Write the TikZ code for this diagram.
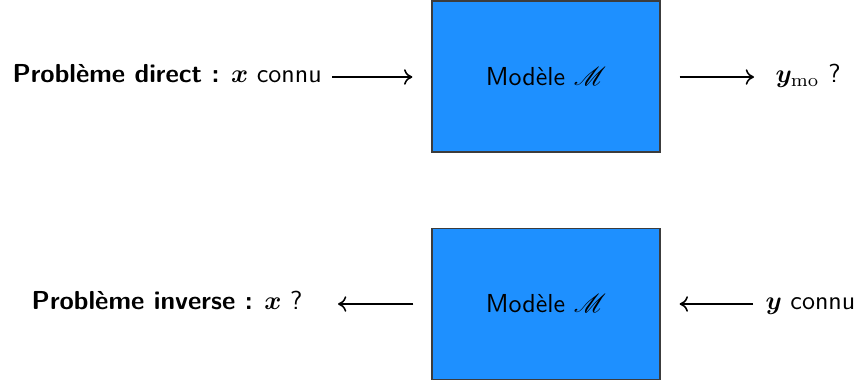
\documentclass[tikz,border=0pt]{standalone}
\usepackage{amsmath}
\usepackage{bm}
\usepackage{mathrsfs}
\usepackage{fontspec}
\usetikzlibrary{arrows.meta}
\renewcommand{\familydefault}{\sfdefault}
\definecolor{modelblue}{RGB}{30,144,255}
\definecolor{boxedge}{RGB}{60,60,60}
\tikzset{
  modelbox/.style={rectangle, draw=boxedge, line width=0.5pt, fill=modelblue,
    minimum width=87.7pt, minimum height=58.1pt, inner sep=0pt, font=\sffamily},
  lbl/.style={inner sep=0pt, font=\sffamily},
  arr/.style={-{Computer Modern Rightarrow[length=3.2pt,width=6pt]}, line width=0.6pt},
}
\begin{document}
\begin{tikzpicture}[x=0.3846pt, y=-0.3846pt]
\useasboundingbox (0,0) rectangle (857,385);
% top row
\node[modelbox] (m1) at (546,76.5) {Mod\`ele $\mathscr{M}$};
\node[lbl, anchor=mid west] (d) at (12,77) {\textbf{Probl\`eme direct :} $\bm{x}$ connu};
\node[lbl, anchor=mid west] (ymo) at (775,77) {$\bm{y}_{\mathrm{mo}}$ ?};
\draw[arr, shorten <=10*0.3846pt, shorten >=19*0.3846pt] (d.mid east) -- (d.mid east -| m1.west);
\draw[arr, shorten <=19*0.3846pt, shorten >=21*0.3846pt] (d.mid east -| m1.east) -- (d.mid east -| ymo.west);
% bottom row
\node[modelbox] (m2) at (546,304) {Mod\`ele $\mathscr{M}$};
\node[lbl, anchor=mid east] (inv) at (303,304) {\textbf{Probl\`eme inverse :} $\bm{x}$\,\,?};
\node[lbl, anchor=mid west] (yc) at (765,304) {$\bm{y}$ connu};
\draw[arr, shorten <=18*0.3846pt, shorten >=35*0.3846pt] (inv.mid east -| m2.west) -- (inv.mid east);
\draw[arr, shorten <=12*0.3846pt, shorten >=19*0.3846pt] (yc.mid west) -- (yc.mid west -| m2.east);
\end{tikzpicture}
\end{document}
